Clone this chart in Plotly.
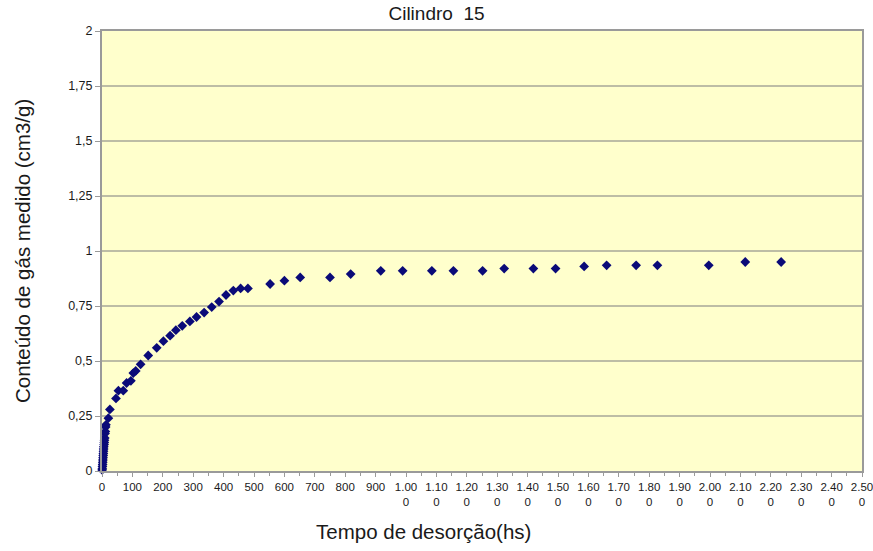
import plotly.graph_objects as go

# Desorption time (x) and measured gas content (cm3/g)
tempo = [0.5, 1, 1.5, 2, 2.5, 3, 3.5, 4, 4.5, 5, 5.5, 6, 7, 7.5, 8, 9, 10, 11, 12, 13,
         21, 26, 46, 54, 70, 81, 95, 103, 111, 127, 152, 180, 202, 224, 243, 264,
         289, 311, 336, 361, 385, 408, 432, 456, 480, 553, 600, 652, 750, 818,
         917, 989, 1085, 1156, 1252, 1323, 1419, 1492, 1586, 1660, 1757, 1827,
         1996, 2116, 2234]
gas = [0.005, 0.01, 0.02, 0.03, 0.04, 0.05, 0.06, 0.07, 0.08, 0.09, 0.10, 0.11, 0.12, 0.13,
       0.14, 0.15, 0.17, 0.18, 0.20, 0.21,
       0.24, 0.28, 0.33, 0.365, 0.365, 0.40, 0.41, 0.445, 0.455, 0.485, 0.525, 0.56,
       0.59, 0.615, 0.64, 0.66, 0.68, 0.70, 0.72, 0.745, 0.77, 0.80, 0.82, 0.83,
       0.83, 0.85, 0.865, 0.88, 0.88, 0.895, 0.91, 0.91, 0.91, 0.91, 0.91, 0.92,
       0.92, 0.92, 0.93, 0.935, 0.935, 0.935, 0.935, 0.95, 0.95]

x_ticks = list(range(0, 2501, 100))
x_labels = [str(v) if v < 1000 else f"{v // 1000}.{v % 1000:03d}"[:4] + "<br>" + f"{v % 10}"
            for v in x_ticks]
y_ticks = [0, 0.25, 0.5, 0.75, 1, 1.25, 1.5, 1.75, 2]
y_labels = ["0", "0,25", "0,5", "0,75", "1", "1,25", "1,5", "1,75", "2"]

FONT = "Liberation Sans, Arial, sans-serif"
L, R, T, B = 102, 11, 31, 80
W, H = 873, 551
pw, ph = W - L - R, H - T - B

fig = go.Figure()
fig.add_trace(go.Scatter(
    x=tempo, y=gas, mode="markers",
    marker=dict(symbol="diamond", size=7.5, color="#0a0a78", line=dict(width=0)),
    cliponaxis=False, showlegend=False,
))

fig.update_layout(
    width=W, height=H,
    margin=dict(l=L, r=R, t=T, b=B, pad=0, autoexpand=False),
    paper_bgcolor="white",
    plot_bgcolor="#FFFFCC",
    font=dict(family=FONT, color="#1a1a1a"),
    title=dict(text="Cilindro\u00a0 15", x=0.5, xref="container", xanchor="center",
               y=1 - 13 / H, yref="container", yanchor="middle",
               font=dict(size=19, family=FONT, color="#1a1a1a")),
    xaxis=dict(
        range=[0, 2500], tickvals=x_ticks, ticktext=x_labels, automargin=False,
        tickfont=dict(size=11.5, family=FONT), tickangle=0, ticklabeloverflow="allow",
        showgrid=False, zeroline=False,
        showline=True, linecolor="#9a9a9a", linewidth=2, mirror=True,
        ticks="outside", ticklen=4, tickcolor="#9a9a9a", tickwidth=1,
        minor=dict(ticks="outside", ticklen=3, dtick=50, tickcolor="#9a9a9a", showgrid=False),
    ),
    yaxis=dict(
        range=[0, 2], tickvals=y_ticks, ticktext=y_labels, automargin=False,
        tickfont=dict(size=12.5, family=FONT),
        showgrid=True, gridcolor="#bdbda5", gridwidth=1.5, zeroline=False,
        showline=True, linecolor="#9a9a9a", linewidth=2, mirror=True,
        ticks="outside", ticklen=5, tickcolor="#9a9a9a", tickwidth=1,
    ),
    annotations=[
        dict(text="Conteúdo de gás medido (cm3/g)", textangle=-90,
             xref="paper", yref="paper", x=(22 - L) / pw, y=0.5,
             xanchor="center", yanchor="middle", showarrow=False,
             font=dict(size=20.5, family=FONT, color="#1a1a1a")),
        dict(text="Tempo de desorção(hs)",
             xref="paper", yref="paper", x=(423 - L) / pw, y=-(531 - (T + ph)) / ph,
             xanchor="center", yanchor="middle", showarrow=False,
             font=dict(size=20.5, family=FONT, color="#1a1a1a")),
    ],
)

fig.write_html("out.html")
